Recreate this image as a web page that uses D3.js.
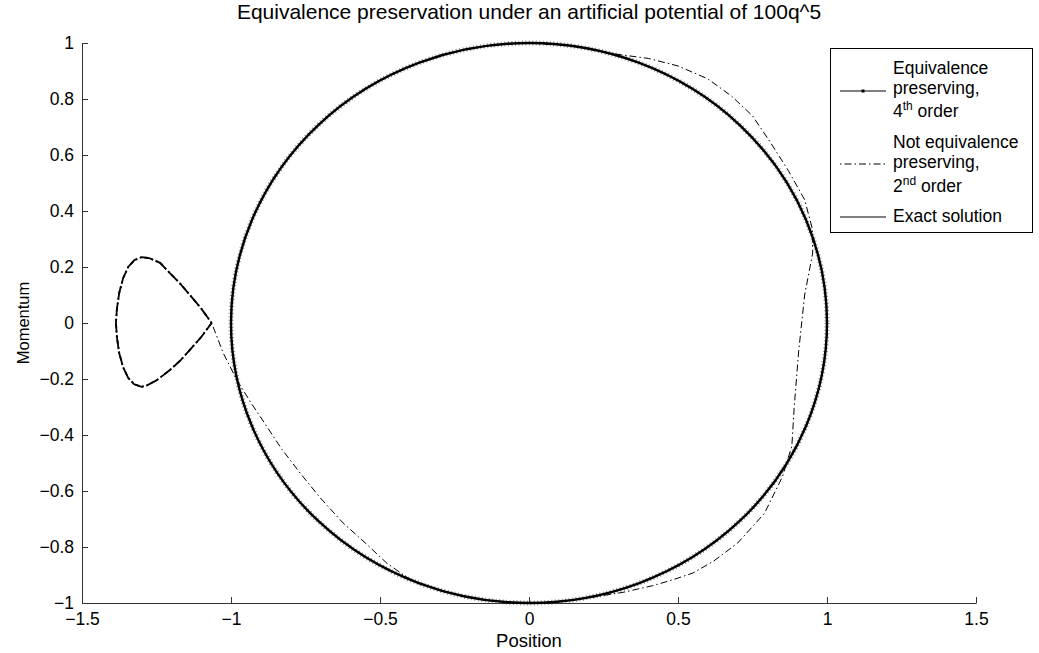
<!DOCTYPE html>
<html lang="en">
<head>
    <meta charset="UTF-8">
    <title>Equivalence preservation</title>
    <style>
        body {
            margin: 0;
            padding: 0;
            background: #fff;
        }
        text {
            font-family: "Liberation Sans", Arial, Helvetica, sans-serif;
            fill: #000;
        }
        .axis line, .axis path {
            stroke: #333;
        }
    </style>
</head>
<body>
    <script src="https://d3js.org/d3.v7.min.js"></script>
    <script>
        const width = 1039;
        const height = 653;

        // tick values
        const xTicks = [-1.5, -1, -0.5, 0, 0.5, 1, 1.5];
        const yTicks = [-1, -0.8, -0.6, -0.4, -0.2, 0, 0.2, 0.4, 0.6, 0.8, 1];

        // exact solution and 4th order scheme: unit circle in phase space
        const exactCenter = [0, 0];
        const exactRadius = 1;
        const eqCenter = [0, 0];
        const eqRadius = 1;

        // not equivalence preserving, 2nd order: big orbit (position, momentum)
        const nepQ = [0, 0.15, 0.28, 0.40, 0.50, 0.60, 0.68, 0.75, 0.81, 0.87, 0.925, 0.95, 0.952,
            0.925, 0.905, 0.89, 0.882, 0.85, 0.79, 0.70, 0.62, 0.55, 0.48, 0.416, 0.315, 0.22, 0.1,
            0, -0.15, -0.3, -0.40, -0.477, -0.55, -0.624, -0.70, -0.768, -0.83, -0.879, -0.93, -0.98, -1.025, -1.065];
        const nepP = [1.0, 0.99, 0.962, 0.945, 0.918, 0.872, 0.81, 0.74, 0.645, 0.545, 0.44, 0.34, 0.25,
            0.1, -0.1, -0.3, -0.44, -0.55, -0.68, -0.786, -0.85, -0.893, -0.918, -0.938, -0.962, -0.978, -0.996,
            -1.0, -0.99, -0.955, -0.915, -0.858, -0.785, -0.714, -0.625, -0.536, -0.45, -0.371, -0.29, -0.204, -0.11, 0];

        // ... then trapped in the left well (teardrop loop)
        const loopQ = [-1.065, -1.10, -1.138, -1.17, -1.205, -1.249, -1.28, -1.30, -1.325, -1.345, -1.362, -1.375, -1.383, -1.386,
            -1.383, -1.375, -1.362, -1.345, -1.325, -1.30, -1.275, -1.238, -1.205, -1.17, -1.138, -1.10, -1.065];
        const loopP = [0, -0.05, -0.096, -0.134, -0.168, -0.204, -0.222, -0.228, -0.219, -0.196, -0.158, -0.108, -0.05, 0,
            0.05, 0.108, 0.16, 0.2, 0.224, 0.235, 0.232, 0.215, 0.178, 0.14, 0.1, 0.052, 0];

        const svg = d3.select('body').append('svg')
            .attr('width', width)
            .attr('height', height);

        const x = d3.scaleLinear().domain([-1.5, 1.5]).range([82, 976]);
        const y = d3.scaleLinear().domain([-1, 1]).range([603, 43]);

        // title and axis labels
        svg.append('text')
            .attr('x', x(0))
            .attr('y', 19)
            .attr('text-anchor', 'middle')
            .style('font-size', '21px')
            .text('Equivalence preservation under an artificial potential of 100q^5');

        svg.append('text')
            .attr('x', x(0))
            .attr('y', 647)
            .attr('text-anchor', 'middle')
            .style('font-size', '18.5px')
            .text('Position');

        svg.append('text')
            .attr('transform', `translate(29,${y(0)}) rotate(-90)`)
            .attr('text-anchor', 'middle')
            .style('font-size', '16.5px')
            .text('Momentum');

        // axes (ticks point inward, no box)
        svg.append('g')
            .attr('class', 'axis')
            .attr('transform', `translate(0,${y(-1)})`)
            .call(d3.axisBottom(x).tickValues(xTicks).tickSizeInner(-6).tickSizeOuter(0).tickPadding(10)
                .tickFormat(d3.format('')));
        svg.append('g')
            .attr('class', 'axis')
            .attr('transform', `translate(${x(-1.5)},0)`)
            .call(d3.axisLeft(y).tickValues(yTicks).tickSizeInner(-6).tickSizeOuter(0).tickPadding(8)
                .tickFormat(d3.format('')));
        svg.selectAll('.axis text').style('font-size', '17.5px').attr('fill', '#000');
        svg.selectAll('.axis .domain').attr('stroke', '#333');

        const plot = svg.append('g');

        // 4th order, equivalence preserving (solid line with dot markers)
        plot.append('ellipse')
            .attr('cx', x(eqCenter[0]))
            .attr('cy', y(eqCenter[1]))
            .attr('rx', x(eqRadius) - x(0))
            .attr('ry', y(0) - y(eqRadius))
            .attr('fill', 'none')
            .attr('stroke', '#444')
            .attr('stroke-width', 5)
            .attr('stroke-dasharray', '1 2.5')
            .attr('opacity', 0.6);
        plot.append('ellipse')
            .attr('cx', x(eqCenter[0]))
            .attr('cy', y(eqCenter[1]))
            .attr('rx', x(eqRadius) - x(0))
            .attr('ry', y(0) - y(eqRadius))
            .attr('fill', 'none')
            .attr('stroke', '#000')
            .attr('stroke-width', 2.4);

        // 2nd order, not equivalence preserving (dash-dot)
        const line = d3.line().x(d => x(d[0])).y(d => y(d[1]));
        const orbit = nepQ.map((q, i) => [q, nepP[i]]);
        const loop = loopQ.map((q, i) => [q, loopP[i]]);

        plot.append('path')
            .attr('d', line(orbit))
            .attr('fill', 'none')
            .attr('stroke', '#000')
            .attr('stroke-width', 1)
            .attr('stroke-dasharray', '7 3 1.5 3');

        // loop gets traversed several times, so the dashes pile up
        [0, 5].forEach(off => {
            plot.append('path')
                .attr('d', line(loop))
                .attr('fill', 'none')
                .attr('stroke', '#000')
                .attr('stroke-width', 1.8)
                .attr('stroke-dasharray', '9 3 1.5 3')
                .attr('stroke-dashoffset', off);
        });

        // exact solution
        plot.append('ellipse')
            .attr('cx', x(exactCenter[0]))
            .attr('cy', y(exactCenter[1]))
            .attr('rx', x(exactRadius) - x(0))
            .attr('ry', y(0) - y(exactRadius))
            .attr('fill', 'none')
            .attr('stroke', '#000')
            .attr('stroke-width', 1);

        // legend
        const legend = svg.append('g');
        legend.append('rect')
            .attr('x', 830.5)
            .attr('y', 48.5)
            .attr('width', 202)
            .attr('height', 184)
            .attr('fill', '#fff')
            .attr('stroke', '#000')
            .attr('stroke-width', 1);

        const entries = [
            { lines: ['Equivalence', 'preserving,', ['4', 'th', ' order']], baselines: [74, 94, 117], sampleY: 91, style: 'marker' },
            { lines: ['Not equivalence', 'preserving,', ['2', 'nd', ' order']], baselines: [148, 168, 192], sampleY: 164, style: 'dashdot' },
            { lines: ['Exact solution'], baselines: [222], sampleY: 217, style: 'solid' }
        ];

        entries.forEach(e => {
            const s = legend.append('line')
                .attr('x1', 840).attr('x2', 886)
                .attr('y1', e.sampleY).attr('y2', e.sampleY)
                .attr('stroke', '#000')
                .attr('stroke-width', 1);
            if (e.style === 'dashdot') s.attr('stroke-dasharray', '1.5 3 7 3');
            if (e.style === 'marker') {
                legend.append('rect')
                    .attr('x', 861.5).attr('y', e.sampleY - 1.5)
                    .attr('width', 3).attr('height', 3)
                    .attr('fill', '#000');
            }
            e.lines.forEach((ln, i) => {
                const t = legend.append('text')
                    .attr('x', 893)
                    .attr('y', e.baselines[i])
                    .style('font-size', '17.5px');
                if (Array.isArray(ln)) {
                    t.append('tspan').text(ln[0]);
                    t.append('tspan').attr('dy', -7).style('font-size', '12px').text(ln[1]);
                    t.append('tspan').attr('dy', 7).text(ln[2]);
                } else {
                    t.text(ln);
                }
            });
        });
    </script>
</body>
</html>
